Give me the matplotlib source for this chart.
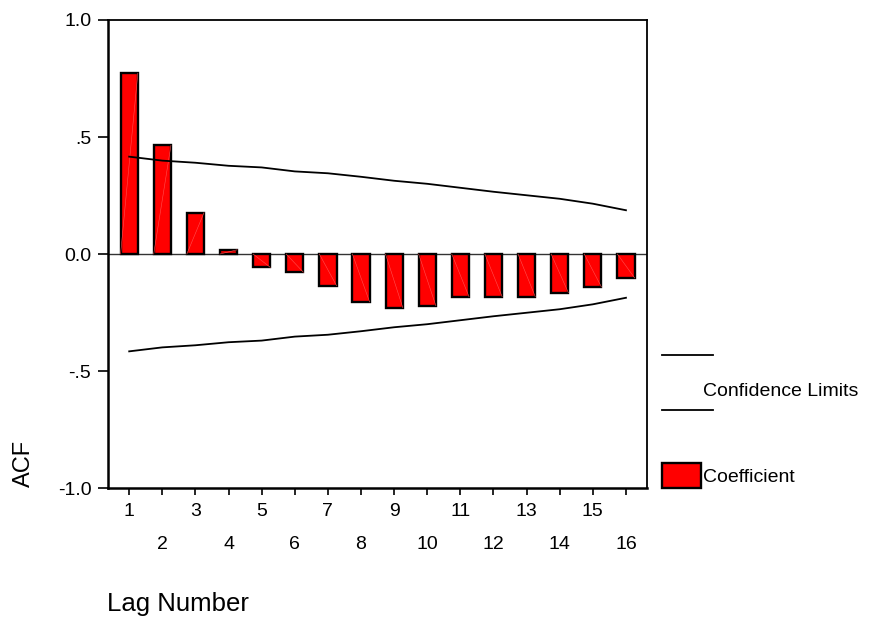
import numpy as np
import matplotlib
matplotlib.use("Agg")
import matplotlib.pyplot as plt
from matplotlib.lines import Line2D
from matplotlib.patches import Rectangle
from matplotlib.transforms import ScaledTranslation

plt.rcParams['font.family'] = ['Liberation Sans', 'DejaVu Sans']

# ACF values
lags = np.arange(1, 17)
acf = [0.772, 0.464, 0.177, 0.018, -0.057, -0.078, -0.135, -0.205,
       -0.229, -0.221, -0.182, -0.182, -0.182, -0.165, -0.141, -0.102]
conf_upper = [0.416, 0.399, 0.390, 0.377, 0.370, 0.353, 0.345, 0.330,
              0.313, 0.300, 0.283, 0.266, 0.251, 0.236, 0.215, 0.187]
conf_lower = [-v for v in conf_upper]
y_ticks = [1.0, 0.5, 0.0, -0.5, -1.0]
y_tick_labels = ['1.0', '.5', '0.0', '-.5', '-1.0']

fig = plt.figure(figsize=(8.71, 6.19), dpi=100)
ax = fig.add_axes([0.124, 0.2116, 0.619, 0.7561])

width = 0.52
ax.bar(lags, acf, width=width, color='#ff0000', edgecolor='black', linewidth=1.7, zorder=3)
# faint diagonal streak inside each bar
for x, v in zip(lags, acf):
    ax.plot([x - width / 2, x + width / 2], [0, v], color='#ff5050', lw=0.4, zorder=4)

ax.plot(lags, conf_upper, color='black', lw=1.3, zorder=5)
ax.plot(lags, conf_lower, color='black', lw=1.3, zorder=5)
ax.axhline(0, color='#333333', lw=1.0, zorder=2)

ax.set_xlim(0.36, 16.64)
ax.set_ylim(-1.0, 1.0)
ax.set_yticks(y_ticks)
ax.set_yticklabels(y_tick_labels)
ax.set_xticks(lags)
ax.set_xticklabels([str(l) for l in lags])
ax.tick_params(axis='y', direction='out', length=7, width=1.2, pad=5, labelsize=14)
ax.tick_params(axis='x', direction='out', length=5, width=1.2, pad=6, labelsize=14)

# stagger the even lag labels onto a second row
shift = ScaledTranslation(0, -0.33, fig.dpi_scale_trans)
for lbl in ax.get_xticklabels()[1::2]:
    lbl.set_transform(lbl.get_transform() + shift)

for side in ['left', 'bottom']:
    ax.spines[side].set_linewidth(1.8)
for side in ['top', 'right']:
    ax.spines[side].set_linewidth(1.3)

fig.text(24 / 871, 1 - 463 / 619, 'ACF', rotation=90, fontsize=17,
         ha='center', va='center')
fig.text(107 / 871, 1 - 604 / 619, 'Lag Number', fontsize=18.5,
         ha='left', va='center')

# legend
W, H = 871, 619
for yy in (355, 410):
    fig.add_artist(Line2D([662 / W, 713 / W], [1 - yy / H, 1 - yy / H],
                          color='black', lw=1.3))
fig.text(703 / W, 1 - 391 / H, 'Confidence Limits', fontsize=14,
         ha='left', va='center')
fig.add_artist(Rectangle((662 / W, 1 - 488 / H), 39 / W, 25 / H,
                         facecolor='#ff0000', edgecolor='black', lw=1.7,
                         transform=fig.transFigure))
fig.text(703 / W, 1 - 477 / H, 'Coefficient', fontsize=14,
         ha='left', va='center')

fig.savefig('out.png', dpi=100)
